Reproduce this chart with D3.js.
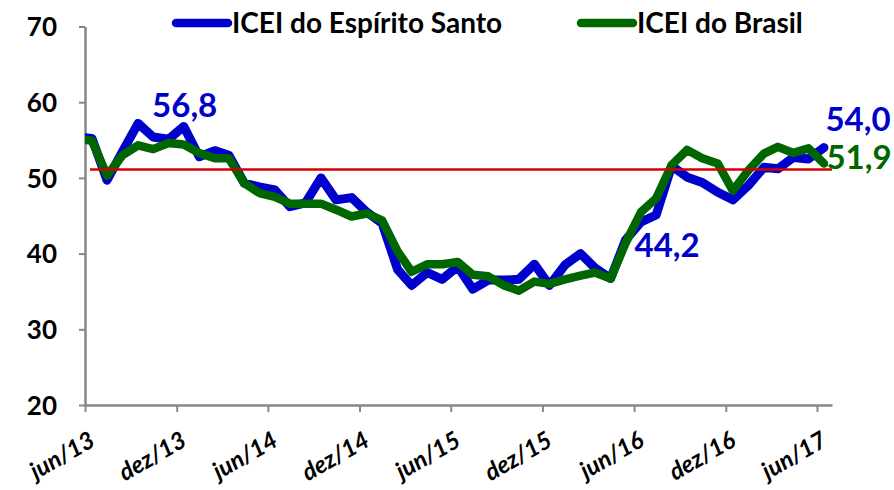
<!DOCTYPE html>
<html>
<head>
<meta charset="utf-8">
<script src="https://cdn.jsdelivr.net/npm/d3@7"></script>
<style>
  body { margin: 0; background: #fff; }
  text { font-family: Lato, "Open Sans", sans-serif; font-weight: bold; }
</style>
</head>
<body>
<div id="chart"></div>
<script>
/* -----------------    DATA     ------------------ */

// months from mai/13 to jun/17 (the mai/13 point is cut off by the plot edge)
const months = d3.timeMonth.range(new Date(2013, 4, 1), new Date(2017, 6, 1));

const iceiES = [
  55.4, 55.2, 49.7, 53.5, 57.2, 55.4, 55.1, 56.8,
  52.8, 53.6, 53.0, 49.3, 48.8, 48.4, 46.2, 46.7, 50.0, 47.1, 47.4, 45.5,
  44.0, 37.9, 35.8, 37.5, 36.6, 38.3, 35.3, 36.5, 36.5, 36.6, 38.6, 35.8,
  38.5, 40.0, 38.1, 36.7, 41.8, 44.2, 45.1, 51.6, 50.1, 49.4, 48.1, 47.1,
  49.0, 51.4, 51.2, 52.7, 52.5, 54.0
];

const iceiBR = [
  55.2, 54.9, 50.3, 53.0, 54.3, 53.8, 54.6, 54.4,
  53.3, 52.6, 52.6, 49.3, 48.0, 47.5, 46.6, 46.6, 46.6, 45.8, 44.9, 45.3,
  44.4, 40.3, 37.6, 38.6, 38.6, 38.9, 37.2, 37.0, 35.8, 35.1, 36.3, 36.0,
  36.6, 37.1, 37.5, 36.7, 41.4, 45.5, 47.3, 51.7, 53.7, 52.6, 51.9, 48.3,
  51.0, 53.2, 54.1, 53.3, 53.9, 51.9
];

const referenceLine = 51.1;

const yTicks = [20, 30, 40, 50, 60, 70];
const xTickLabels = ['jun/13', 'dez/13', 'jun/14', 'dez/14', 'jun/15', 'dez/15', 'jun/16', 'dez/16', 'jun/17'];

const seriesNames = ['ICEI do Espírito Santo', 'ICEI do Brasil'];

// highlighted values: [series index, month label, text]
const pointLabels = [
  [0, 'dez/13', '56,8'],
  [0, 'jun/16', '44,2'],
  [0, 'jun/17', '54,0'],
  [1, 'jun/17', '51,9']
];

/* -----------------    CONSTANTS     ------------------ */
const graphSettings = {
  svgWidth: 894,
  svgHeight: 490,
  left: 85,
  right: 832,
  top: 26.5,
  bottom: 405,

  blue: '#0000cc',
  green: '#006600',
  red: '#d40000',
  axis: '#868686'
};

/* -----------------    LOGIC     ------------------ */
const s = graphSettings;
const ptBr = d3.timeFormatLocale({
  dateTime: '%d/%m/%Y', date: '%d/%m/%Y', time: '%H:%M:%S', periods: ['', ''],
  days: ['domingo', 'segunda', 'terça', 'quarta', 'quinta', 'sexta', 'sábado'],
  shortDays: ['dom', 'seg', 'ter', 'qua', 'qui', 'sex', 'sáb'],
  months: ['janeiro', 'fevereiro', 'março', 'abril', 'maio', 'junho', 'julho', 'agosto', 'setembro', 'outubro', 'novembro', 'dezembro'],
  shortMonths: ['jan', 'fev', 'mar', 'abr', 'mai', 'jun', 'jul', 'ago', 'set', 'out', 'nov', 'dez']
});
const monthFmt = ptBr.format('%b/%y');

// points sit in the middle of their month
const pointDate = d => d3.timeDay.offset(d, 14);

const xScale = d3.scaleTime()
  .domain([new Date(2013, 5, 1), new Date(2017, 6, 1)])
  .range([s.left, s.right]);

const yScale = d3.scaleLinear()
  .domain([20, 70])
  .range([s.bottom, s.top]);

const svg = d3.select('#chart')
  .append('svg')
  .attr('width', s.svgWidth)
  .attr('height', s.svgHeight);

svg.append('defs').append('clipPath')
  .attr('id', 'plot-clip')
  .append('rect')
  .attr('x', s.left)
  .attr('y', 0)
  .attr('width', s.right - s.left + 20)
  .attr('height', s.svgHeight);

// Axes
const tickDates = xTickLabels.map((lab, i) => d3.timeMonth.offset(new Date(2013, 5, 1), i * 6));

const xAxis = d3.axisBottom(xScale)
  .tickValues(tickDates)
  .tickSize(7)
  .tickSizeOuter(0)
  .tickFormat((d, i) => xTickLabels[i]);

const yAxis = d3.axisLeft(yScale)
  .tickValues(yTicks)
  .tickSize(6)
  .tickSizeOuter(0);

const gx = svg.append('g')
  .attr('class', 'x axis')
  .attr('transform', `translate(0, ${s.bottom})`)
  .call(xAxis);

gx.select('.domain').attr('stroke', s.axis).attr('stroke-width', 2.5);
gx.selectAll('.tick line').attr('stroke', s.axis).attr('stroke-width', 2);
gx.selectAll('.tick text')
  .attr('font-size', 24)
  .attr('font-style', 'italic')
  .attr('fill', '#000')
  .attr('text-anchor', 'end')
  .attr('y', 0)
  .attr('dy', 0)
  .attr('transform', 'translate(11, 40) rotate(-30)');

const gy = svg.append('g')
  .attr('class', 'y axis')
  .attr('transform', `translate(${s.left}, 0)`)
  .call(yAxis);

gy.select('.domain').attr('stroke', s.axis).attr('stroke-width', 2.5);
gy.selectAll('.tick line').attr('stroke', s.axis).attr('stroke-width', 2);
gy.selectAll('.tick text')
  .attr('font-size', 26)
  .attr('fill', '#000')
  .attr('x', -28)
  .attr('dy', '0.36em');

// Lines
const line = d3.line()
  .x((d, i) => xScale(pointDate(months[i])))
  .y(d => yScale(d));

const plot = svg.append('g').attr('clip-path', 'url(#plot-clip)');

[[iceiES, s.blue, 9], [iceiBR, s.green, 8.5]].forEach(([values, color, w]) => {
  plot.append('path')
    .datum(values)
    .attr('d', line)
    .attr('fill', 'none')
    .attr('stroke', color)
    .attr('stroke-width', w)
    .attr('stroke-linejoin', 'round')
    .attr('stroke-linecap', 'round');
});

// Reference line
svg.append('line')
  .attr('x1', s.left + 5)
  .attr('x2', s.right)
  .attr('y1', yScale(referenceLine))
  .attr('y2', yScale(referenceLine))
  .attr('stroke', s.red)
  .attr('stroke-width', 2.5);

// Value labels
const labelPos = {
  '56,8': { dx: 1, dy: -9 },
  '44,2': { dx: 26, dy: 35 },
  '54,0': { dx: 34, dy: -17 },
  '51,9': { dx: 35, dy: 5 }
};

pointLabels.forEach(([si, lab, txt]) => {
  const idx = months.findIndex(m => monthFmt(m) === lab);
  const values = si === 0 ? iceiES : iceiBR;
  const p = labelPos[txt];
  svg.append('text')
    .attr('x', xScale(pointDate(months[idx])) + p.dx)
    .attr('y', yScale(values[idx]) + p.dy)
    .attr('text-anchor', 'middle')
    .attr('font-size', 33)
    .attr('fill', si === 0 ? s.blue : s.green)
    .text(txt);
});

// Legend
const legend = svg.append('g').attr('class', 'legend');
const legendX = [176, 581];
seriesNames.forEach((name, i) => {
  const g = legend.append('g').attr('transform', `translate(${legendX[i]}, 23)`);
  g.append('line')
    .attr('x1', 0).attr('x2', 52)
    .attr('stroke', i === 0 ? s.blue : s.green)
    .attr('stroke-width', 8.5)
    .attr('stroke-linecap', 'round');
  g.append('text')
    .attr('x', 56)
    .attr('y', 10)
    .attr('font-size', 28)
    .attr('fill', '#000')
    .text(name);
});
</script>
</body>
</html>
